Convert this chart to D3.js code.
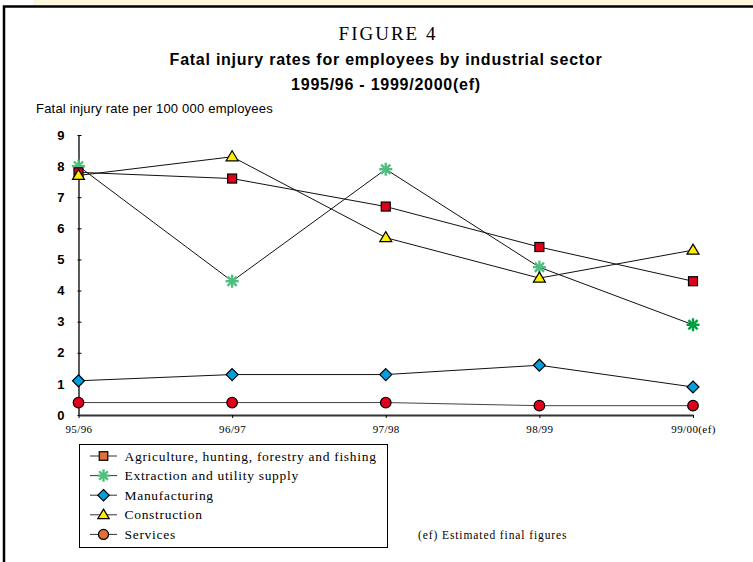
<!DOCTYPE html>
<html><head><meta charset="utf-8">
<script src="https://cdn.jsdelivr.net/npm/d3@7"></script>
<style>body{margin:0;background:#fff;}svg{display:block;}</style>
</head><body>
<script>
const categories = ["95/96","96/97","97/98","98/99","99/00(ef)"];
const agriculture = [7.8, 7.6, 6.7, 5.4, 4.3];
const extraction = [8.0, 4.3, 7.9, 4.75, 2.9];
const manufacturing = [1.1, 1.3, 1.3, 1.6, 0.9];
const construction = [7.7, 8.3, 5.7, 4.4, 5.3];
const services = [0.4, 0.4, 0.4, 0.3, 0.3];
const yTicks = [0,1,2,3,4,5,6,7,8,9];
const seriesNames = ["Agriculture, hunting, forestry and fishing","Extraction and utility supply","Manufacturing","Construction","Services"];

const W = 753, H = 562;
const svg = d3.select("body").append("svg").attr("width", W).attr("height", H);

// top band & frame
svg.append("rect").attr("x",33).attr("y",0).attr("width",W-33).attr("height",5.5).attr("fill","#fdf8dc");
svg.append("rect").attr("x",4).attr("y",6.5).attr("width",W+10).attr("height",H+10)
  .attr("fill","#fff").attr("stroke","#000").attr("stroke-width",2.5);

// titles
svg.append("text").attr("x",388).attr("y",40).attr("text-anchor","middle")
  .attr("font-family","Liberation Serif, serif").attr("font-size",19).attr("letter-spacing",2)
  .text("FIGURE 4");
svg.append("text").attr("x",386).attr("y",65).attr("text-anchor","middle")
  .attr("font-family","Liberation Sans, Arial, sans-serif").attr("font-weight","bold").attr("font-size",16)
  .attr("letter-spacing",0.75)
  .text("Fatal injury rates for employees by industrial sector");
svg.append("text").attr("x",386).attr("y",90).attr("text-anchor","middle")
  .attr("font-family","Liberation Sans, Arial, sans-serif").attr("font-weight","bold").attr("font-size",16)
  .attr("letter-spacing",0.75)
  .text("1995/96 - 1999/2000(ef)");
svg.append("text").attr("x",36).attr("y",113)
  .attr("font-family","Liberation Sans, Arial, sans-serif").attr("font-size",13).attr("letter-spacing",0.2)
  .text("Fatal injury rate per 100 000 employees");

const x = d3.scalePoint().domain(categories).range([78.5, 693]);
const y = d3.scaleLinear().domain([0,9]).range([415, 135]);

// y axis
const yAxis = svg.append("g").attr("transform","translate(78.5,0)")
  .call(d3.axisLeft(y).tickValues(yTicks).tickSize(3).tickSizeOuter(0).tickPadding(11));
yAxis.select(".domain").attr("stroke","#000").attr("stroke-width",1.3);
yAxis.selectAll(".tick line").attr("x2",3).attr("x1",-1).attr("stroke","#000");
yAxis.selectAll(".tick text").attr("font-family","Liberation Sans, Arial, sans-serif")
  .attr("font-weight","bold").attr("font-size",13).attr("fill","#000");

// x axis
const xAxis = svg.append("g").attr("transform","translate(0,415)")
  .call(d3.axisBottom(x).tickSize(3).tickSizeOuter(0).tickPadding(7));
xAxis.select(".domain").attr("stroke","#333").attr("stroke-width",2);
xAxis.selectAll(".tick line").attr("stroke","#000");
xAxis.selectAll(".tick text").attr("font-family","Liberation Serif, serif")
  .attr("font-size",11).attr("letter-spacing",0.4).attr("fill","#000");

const line = d3.line().x((d,i)=>x(categories[i])).y(d=>y(d));

const series = [
  {name:seriesNames[0], values:agriculture, shape:"square", fill:"#e0001b", legendFill:"#e0703a"},
  {name:seriesNames[1], values:extraction, shape:"star", fill:"#4dbf7f", legendFill:"#4dbf7f"},
  {name:seriesNames[2], values:manufacturing, shape:"diamond", fill:"#00a0e0", legendFill:"#00a0e0"},
  {name:seriesNames[3], values:construction, shape:"triangle", fill:"#ffee00", legendFill:"#ffee00"},
  {name:seriesNames[4], values:services, shape:"circle", fill:"#e0001b", legendFill:"#e0703a"}
];

series.slice().reverse().forEach(s=>{
  svg.append("path").datum(s.values).attr("d",line).attr("fill","none")
    .attr("stroke", s.shape==="circle" ? "#444" : "#111").attr("stroke-width",1);
});

function drawMarker(g, shape, fill, cx, cy, scale){
  scale = scale || 1;
  if(shape==="square"){
    const a=9*scale;
    g.append("rect").attr("x",cx-a/2).attr("y",cy-a/2).attr("width",a).attr("height",a)
      .attr("fill",fill).attr("stroke","#000").attr("stroke-width",1.2);
  } else if(shape==="circle"){
    g.append("circle").attr("cx",cx).attr("cy",cy).attr("r",5.3*scale)
      .attr("fill",fill).attr("stroke","#000").attr("stroke-width",1.2);
  } else if(shape==="diamond"){
    const r=6*scale;
    g.append("path").attr("d",`M${cx},${cy-r}L${cx+r},${cy}L${cx},${cy+r}L${cx-r},${cy}Z`)
      .attr("fill",fill).attr("stroke","#000").attr("stroke-width",1.2);
  } else if(shape==="triangle"){
    const w=6*scale, h=10*scale;
    g.append("path").attr("d",`M${cx},${cy-h*0.6}L${cx+w},${cy+h*0.4}L${cx-w},${cy+h*0.4}Z`)
      .attr("fill",fill).attr("stroke","#000").attr("stroke-width",1.2);
  } else if(shape==="star"){
    const r=6.5*scale;
    for(let k=0;k<4;k++){
      const ang=k*Math.PI/4;
      g.append("line").attr("x1",cx-r*Math.cos(ang)).attr("y1",cy-r*Math.sin(ang))
        .attr("x2",cx+r*Math.cos(ang)).attr("y2",cy+r*Math.sin(ang))
        .attr("stroke",fill).attr("stroke-width",2.4);
    }
  }
}

const mg = svg.append("g");
const order = [4,2,1,0,3];
order.forEach(si=>{
  const s = series[si];
  s.values.forEach((v,i)=>{
    let f = s.fill;
    if(s.shape==="star" && i===s.values.length-1) f = "#00a040";
    drawMarker(mg, s.shape, f, x(categories[i]), y(v));
  });
});

// legend
const lg = svg.append("g");
lg.append("rect").attr("x",79.5).attr("y",444.5).attr("width",308).attr("height",103)
  .attr("fill","#fff").attr("stroke","#000").attr("stroke-width",1);
series.forEach((s,i)=>{
  const cy = 456 + i*19.6;
  lg.append("line").attr("x1",90).attr("x2",117).attr("y1",cy).attr("y2",cy)
    .attr("stroke","#333").attr("stroke-width",1);
  drawMarker(lg, s.shape, s.legendFill, 103.5, cy, 0.95);
  lg.append("text").attr("x",124.5).attr("y",cy+4.5).attr("font-family","Liberation Serif, serif")
    .attr("font-size",13.5).attr("letter-spacing",0.7).text(s.name);
});

svg.append("text").attr("x",418).attr("y",539).attr("font-family","Liberation Serif, serif")
  .attr("font-size",11.5).attr("letter-spacing",0.9).text("(ef) Estimated final figures");
</script>
</body></html>
